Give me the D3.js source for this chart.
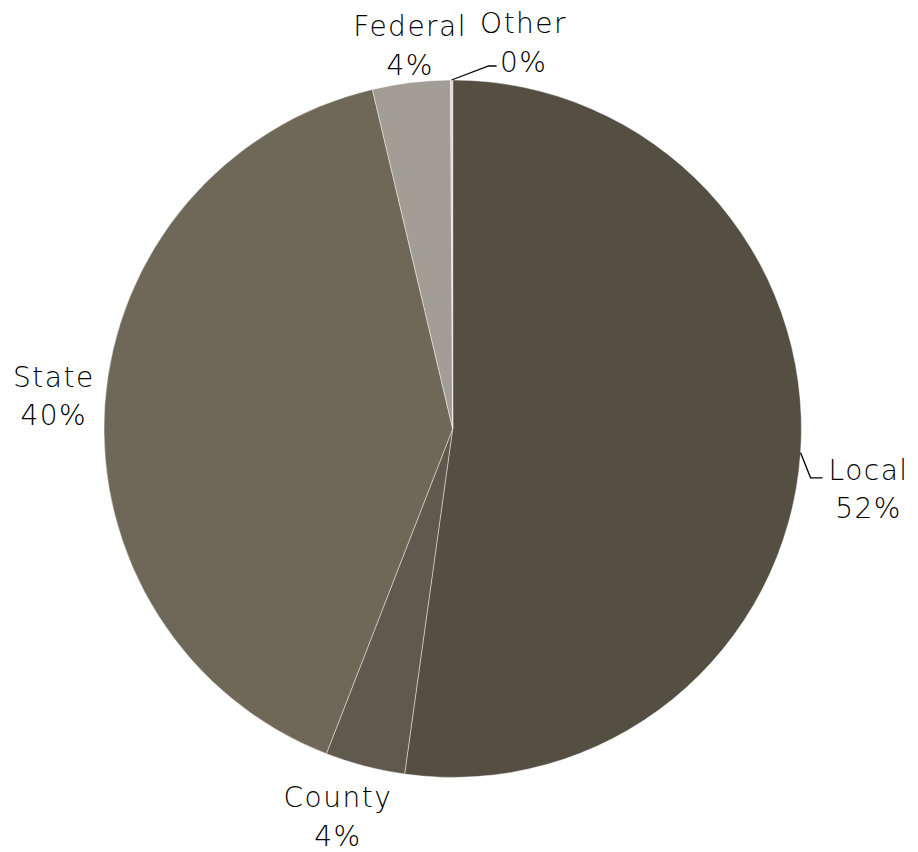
<!DOCTYPE html>
<html>
<head>
<meta charset="utf-8">
<script src="https://cdn.jsdelivr.net/npm/d3@7"></script>
<style>
  html, body { margin: 0; padding: 0; background: #ffffff; }
  svg text { font-family: "DejaVu Sans", "Liberation Sans", sans-serif; font-weight: 300; fill: #000; }
</style>
</head>
<body>
<svg id="chart" width="918" height="852"></svg>
<script>
// Funding sources (share of total, percent)
const categories = ["Local", "County", "State", "Federal", "Other"];
const shares = [52.2, 3.7, 40.4, 3.6, 0.1];
const sliceColors = ["#554e43", "#61594e", "#6f6757", "#a29e96", "#d9d6cf"];

// Label placement relative to each slice's outer-edge midpoint
const labelLayout = {
  Local:   { dx: 68,  dy: 37,    leader: [[10, 25], [22, 25]] },
  County:  { dx: -27, dy: 51,    leader: null },
  State:   { dx: -51, dy: -8,    leader: null },
  Federal: { dx: -1,  dy: -36,   leader: null },
  Other:   { dx: 72,  dy: -37,   leader: [[37, -14], [45, -14]] }
};

const width = 918, height = 852;
const cx = 452.7, cy = 428.7, radius = 348.7;
const lineGap = 38.5;

const svg = d3.select("#chart");
const g = svg.append("g").attr("transform", `translate(${cx},${cy})`);

const data = categories.map((c, i) => ({ category: c, value: shares[i] }));
const total = d3.sum(shares);

const pie = d3.pie().value(d => d.value).sort(null);
const arc = d3.arc().innerRadius(0).outerRadius(radius);
const color = d3.scaleOrdinal().domain(categories).range(sliceColors);

const arcs = pie(data);

g.selectAll("path.slice")
  .data(arcs)
  .join("path")
  .attr("class", "slice")
  .attr("d", arc)
  .attr("fill", d => color(d.data.category))
  .attr("stroke", "#ffffff")
  .attr("stroke-opacity", 0.55)
  .attr("stroke-width", 0.8);

// Point on the rim at the middle of each slice
function rimPoint(d) {
  const a = (d.startAngle + d.endAngle) / 2;
  return [radius * Math.sin(a), -radius * Math.cos(a)];
}

const labels = g.selectAll("g.label")
  .data(arcs)
  .join("g")
  .attr("class", "label");

labels.each(function (d) {
  const lay = labelLayout[d.data.category];
  const [px, py] = rimPoint(d);
  const sel = d3.select(this);
  if (lay.leader) {
    const pts = [[px, py]].concat(lay.leader.map(([x, y]) => [px + x, py + y]));
    sel.append("path")
      .attr("d", d3.line()(pts))
      .attr("fill", "none")
      .attr("stroke", "#000")
      .attr("stroke-width", 1.3);
  }
  const tx = px + lay.dx, ty = py + lay.dy;
  const pct = Math.round(d.data.value / total * 100) + "%";
  const t = sel.append("text")
    .attr("text-anchor", "middle")
    .attr("font-size", 28)
    .attr("letter-spacing", 1.5);
  t.append("tspan").attr("x", tx).attr("y", ty - 10).text(d.data.category);
  t.append("tspan").attr("x", tx).attr("y", ty - 10 + lineGap).text(pct);
});
</script>
</body>
</html>
